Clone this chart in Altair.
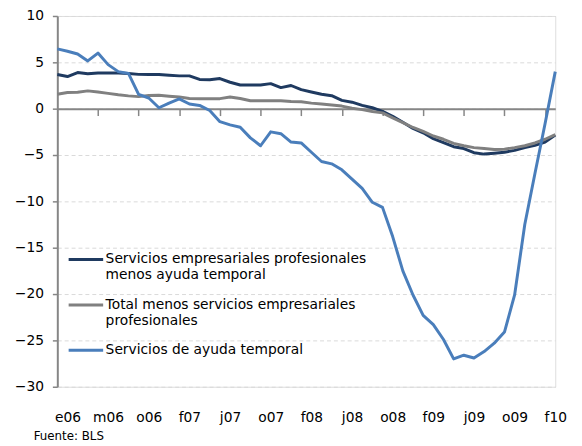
import json
import altair as alt
import pandas as pd

# ---- data ----
etiquetas = ["e06", "m06", "o06", "f07", "j07", "o07", "f08", "j08", "o08", "f09", "j09", "o09", "f10"]
series = [
    "Servicios empresariales  profesionales|menos ayuda temporal",
    "Total menos servicios empresariales|profesionales",
    "Servicios de ayuda temporal",
]
colores = ["#1f3a60", "#808080", "#4a7ebb"]

prof_sin_temp = [3.68, 3.47, 3.9, 3.76, 3.85, 3.85, 3.85, 3.8, 3.7, 3.68,
                 3.68, 3.6, 3.54, 3.54, 3.15, 3.12, 3.25, 2.85, 2.55, 2.55,
                 2.55, 2.7, 2.27, 2.5, 2.05, 1.8, 1.55, 1.4, 0.9, 0.7,
                 0.35, 0.1, -0.3, -0.82, -1.46, -2.13, -2.6, -3.23, -3.66, -4.1,
                 -4.3, -4.75, -4.9, -4.8, -4.7, -4.5, -4.2, -3.95, -3.6, -2.85]
total_sin_prof = [1.56, 1.75, 1.77, 1.92, 1.8, 1.65, 1.5, 1.38, 1.3, 1.42,
                  1.45, 1.35, 1.27, 1.1, 1.08, 1.08, 1.08, 1.25, 1.1, 0.85,
                  0.85, 0.85, 0.85, 0.78, 0.75, 0.6, 0.5, 0.4, 0.28, 0.05,
                  -0.1, -0.3, -0.45, -1.0, -1.5, -2.03, -2.45, -2.95, -3.3, -3.75,
                  -4.0, -4.2, -4.3, -4.4, -4.37, -4.2, -4.0, -3.7, -3.3, -2.8]
ayuda_temporal = [6.45, 6.2, 5.9, 5.15, 6.0, 4.75, 4.0, 3.8, 1.55, 1.15,
                  0.1, 0.6, 1.05, 0.5, 0.35, -0.2, -1.4, -1.75, -2.0, -3.15,
                  -4.0, -2.5, -2.7, -3.6, -3.7, -4.7, -5.7, -5.95, -6.6, -7.6,
                  -8.6, -10.1, -10.65, -13.8, -17.5, -20.1, -22.3, -23.3, -24.9, -27.0,
                  -26.6, -26.9, -26.2, -25.3, -24.1, -20.1, -12.5, -7.0, -1.6, 4.0]

y_ticks = [-30, -25, -20, -15, -10, -5, 0, 5, 10]

rows = []
for name, vals in zip(series, [prof_sin_temp, total_sin_prof, ayuda_temporal]):
    for i, v in enumerate(vals):
        rows.append({"i": i, "v": v, "serie": name})
df = pd.DataFrame(rows)

n = len(ayuda_temporal)
label_pos = [1 + 4 * k for k in range(len(etiquetas))]
tick_pos = [4 * k for k in range(1, (n - 1) // 4 + 1)]

FONT = "DejaVu Sans"
W, H = 505, 376
ymin, ymax = -30, 10

x_scale = alt.Scale(domain=[0, n - 1], nice=False, zero=False)
y_enc = alt.Y(
    "v:Q",
    scale=alt.Scale(domain=[ymin, ymax], nice=False, zero=False),
    axis=alt.Axis(values=y_ticks, title=None, grid=True, gridDash=[4, 3],
                  gridColor="#d9d9d9", gridWidth=1, domainColor="#868686",
                  domainWidth=2, tickColor="#868686", tickWidth=1.5, tickSize=5,
                  labelPadding=9, labelFont=FONT, labelFontSize=14,
                  labelColor="#000000"),
)

lbl_expr = json.dumps(etiquetas) + "[(datum.value - 1) / 4]"

lines = alt.Chart(df).mark_line(strokeWidth=3, strokeJoin="round").encode(
    x=alt.X("i:Q", scale=x_scale,
            axis=alt.Axis(values=label_pos, labelExpr=lbl_expr, title=None,
                          domain=False, ticks=False, grid=False, orient="bottom",
                          labelPadding=24, labelFont=FONT, labelFontSize=14,
                          labelColor="#000000", labelFlush=False,
                          labelOverlap=False)),
    y=y_enc,
    color=alt.Color("serie:N", sort=series,
                    scale=alt.Scale(domain=series, range=colores),
                    legend=alt.Legend(orient="none", legendX=10, legendY=228,
                                      title=None, symbolType="stroke",
                                      symbolStrokeWidth=3, symbolSize=1225,
                                      labelExpr="split(datum.label, '|')",
                                      labelFont=FONT, labelFontSize=14,
                                      labelColor="#000000", labelLimit=500,
                                      labelOffset=1, rowPadding=4, padding=0)),
    order=alt.Order("i:Q"),
)

zero_axis = alt.Chart(df).mark_line(strokeOpacity=0).encode(
    x=alt.X("i:Q", scale=x_scale,
            axis=alt.Axis(values=tick_pos, labels=False, title=None, grid=False,
                          domain=True, domainColor="#868686", domainWidth=2,
                          ticks=True, tickColor="#868686", tickWidth=1.5,
                          tickSize=7, orient="bottom",
                          offset=-H * (0 - ymin) / (ymax - ymin), zindex=0)),
    y=y_enc,
    detail="serie:N",
)

chart = alt.layer(zero_axis, lines).resolve_axis(x="independent").properties(
    width=W, height=H,
    autosize=alt.AutoSizeParams(type="none"),
    padding={"left": 50, "top": 5, "right": 19, "bottom": 57},
    title=alt.TitleParams("Fuente: BLS", orient="bottom", anchor="start",
                          frame="group", font=FONT, fontSize=12,
                          fontWeight="normal", color="#000000", dx=-24,
                          offset=7),
).configure_view(stroke=None).configure(background="white")

chart.save("out.html", embed_options={"renderer": "svg", "actions": False})
